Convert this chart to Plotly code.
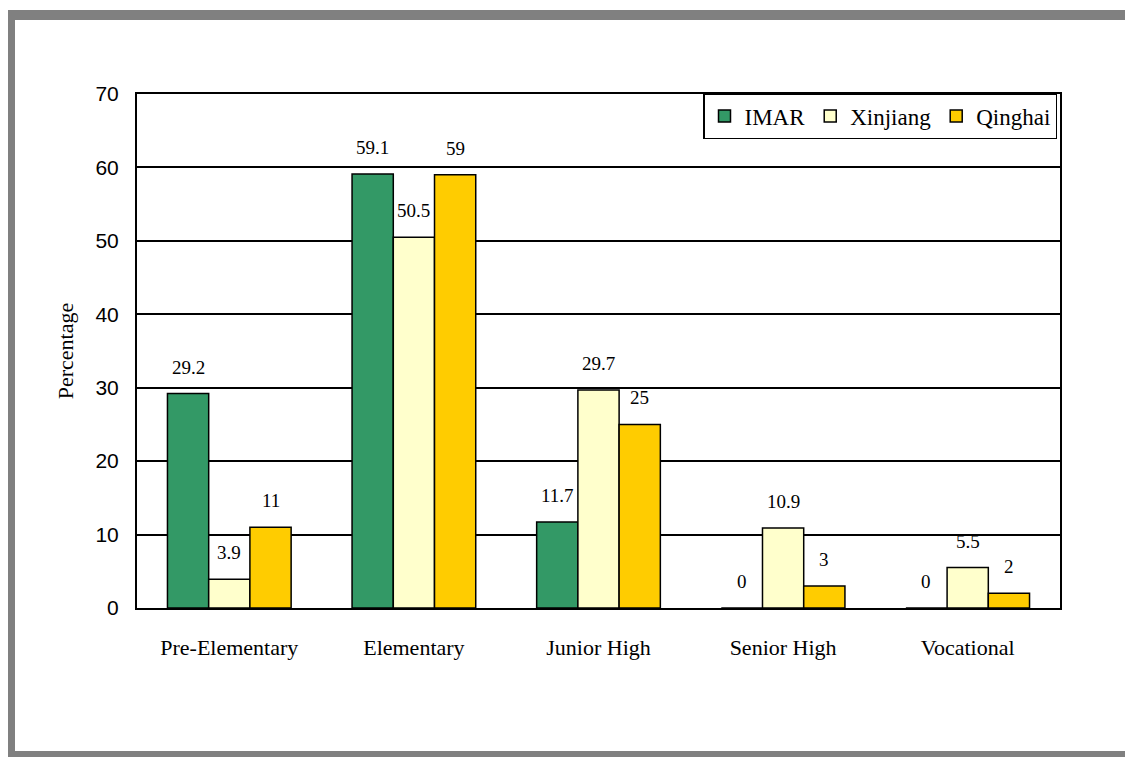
import plotly.graph_objects as go

levels = ['Pre-Elementary', 'Elementary', 'Junior High', 'Senior High', 'Vocational']
imar = [29.2, 59.1, 11.7, 0, 0]
xinjiang = [3.9, 50.5, 29.7, 10.9, 5.5]
qinghai = [11, 59, 25, 3, 2]
y_ticks = [0, 10, 20, 30, 40, 50, 60, 70]

# page has an 8px body margin, so shift reference pixels by 8
OFF = 8
W, H = 1133 - OFF, 757 - OFF
L, R, T, B = 137 - OFF, 1060 - OFF, 94 - OFF, 608 - OFF  # plot box in pixels


def px_x(p):
    return (p - OFF - L) / (R - L)


def px_y(p):
    return (B - (p - OFF)) / (B - T)


serif = 'Liberation Serif, Times New Roman, serif'
series = [('IMAR', imar, '#339966'), ('Xinjiang', xinjiang, '#FFFFCC'), ('Qinghai', qinghai, '#FFCC00')]
bargap = 0.33
bar_px = (R - L) / len(levels) * (1 - bargap) / len(series)

fig = go.Figure()
for i, (name, vals, col) in enumerate(series):
    fig.add_trace(go.Bar(
        x=levels, y=vals, name=name,
        marker=dict(color=col, line=dict(color='black', width=1.5)),
    ))
    for lev, v in zip(levels, vals):
        fig.add_annotation(x=lev, y=v, text=f'{v:g}', showarrow=False,
                           xshift=(i - 1) * bar_px, yshift=14, yanchor='bottom',
                           font=dict(family=serif, size=19, color='black'))

fig.update_layout(
    width=W, height=H,
    margin=dict(l=L, r=W - R, t=T, b=H - B),
    barmode='group', bargap=bargap, bargroupgap=0,
    plot_bgcolor='white', paper_bgcolor='white',
    showlegend=True,
    legend=dict(orientation='h', x=px_x(1057), xanchor='right', y=px_y(93), yanchor='top',
                bordercolor='black', borderwidth=1.5, bgcolor='white',
                font=dict(family=serif, size=23, color='black'),
                itemwidth=30, tracegroupgap=0),
)
fig.update_yaxes(range=[0, 70], tickvals=y_ticks, showgrid=True, gridcolor='black', gridwidth=2,
                 showline=True, linecolor='black', linewidth=2, mirror=True,
                 ticks='', ticklabelstandoff=12,
                 tickfont=dict(family='Liberation Sans, Arial, sans-serif', size=21, color='black'),
                 title=dict(text='Percentage', font=dict(family=serif, size=22, color='black'), standoff=16),
                 zeroline=False)
fig.update_xaxes(showline=True, linecolor='black', linewidth=2, mirror=True, ticks='',
                 ticklabelstandoff=19,
                 tickfont=dict(family=serif, size=22, color='black'))

# gray frame around the picture
gray = '#808080'
frame = [(5, 10, 1133, 20), (5, 10, 15, 757), (5, 751, 1133, 757), (1130, 10, 1133, 757)]
for x0, y0, x1, y1 in frame:
    fig.add_shape(type='rect', xref='paper', yref='paper',
                  x0=px_x(x0), x1=px_x(x1), y0=px_y(y1), y1=px_y(y0),
                  fillcolor=gray, line=dict(width=0), layer='above')

fig.write_html('out.html')
